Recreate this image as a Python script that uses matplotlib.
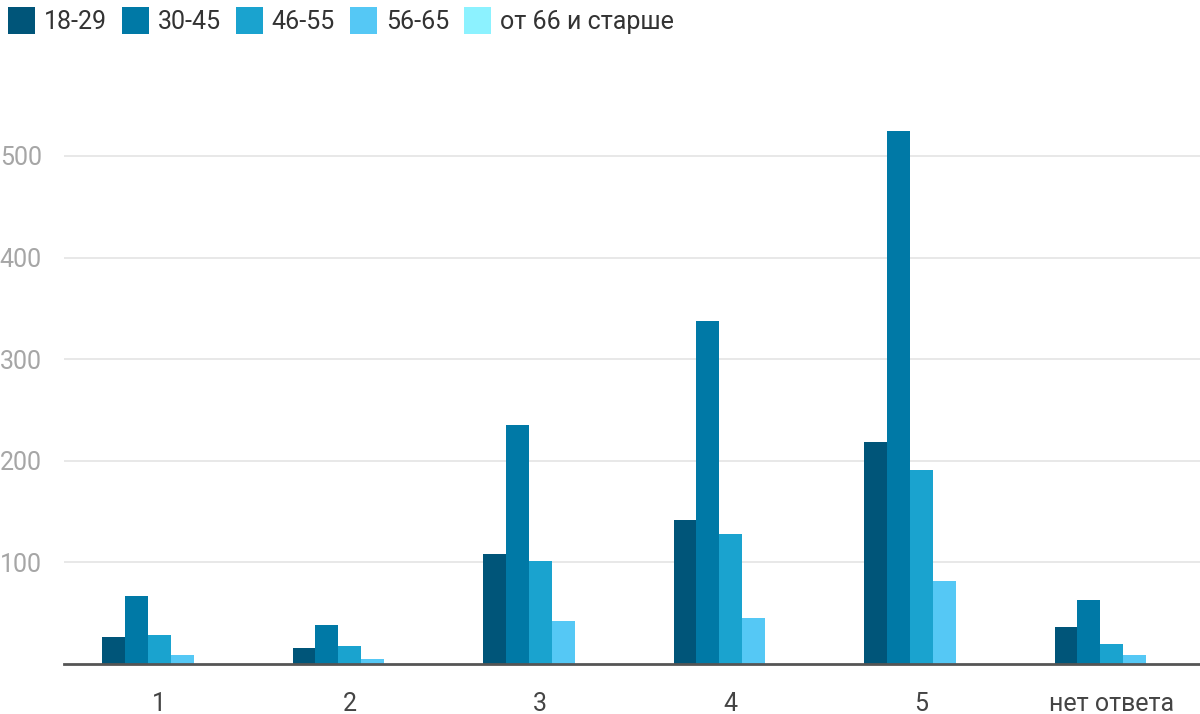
import numpy as np
import matplotlib
matplotlib.use("Agg")
import matplotlib.pyplot as plt
from matplotlib import font_manager

categories = ["1", "2", "3", "4", "5", "нет ответа"]
series_names = ["18-29", "30-45", "46-55", "56-65", "от 66 и старше"]
v_18_29 = [27, 16, 108, 142, 218, 36]
v_30_45 = [67, 38, 235, 338, 525, 63]
v_46_55 = [29, 18, 101, 128, 191, 20]
v_56_65 = [9, 5, 42, 45, 82, 9]
v_66_up = [0, 0, 0, 0, 0, 0]
y_ticks = [100, 200, 300, 400, 500]

colors = ["#005579", "#0079a6", "#1aa3cf", "#55c8f5", "#8cf2ff"]

# condensed font if present, otherwise Roboto
try:
    font_manager.findfont("Liberation Sans Narrow", fallback_to_default=False)
    fam = "Liberation Sans Narrow"
    fs = 20
except Exception:
    fam = "Roboto"
    fs = 18
plt.rcParams["font.family"] = [fam, "DejaVu Sans"]

fig = plt.figure(figsize=(12, 7.14), dpi=100)
ax = fig.add_axes([64 / 1200, 50 / 714, 1143 / 1200, 569 / 714])

data = [v_18_29, v_30_45, v_46_55, v_56_65, v_66_up]
x = np.arange(len(categories))
w = 0.12
for i, (name, vals) in enumerate(zip(series_names, data)):
    ax.bar(x + (i - 2) * w, vals, width=w, color=colors[i], label=name,
           edgecolor="none", zorder=3)

ax.set_xlim(-0.5, len(categories) - 0.5)
ax.set_ylim(0, 560)
ax.set_yticks(y_ticks)
ax.set_yticklabels([str(t) for t in y_ticks])
ax.set_xticks(x)
ax.set_xticklabels(categories)
ax.tick_params(axis="y", length=0, pad=16, labelsize=fs, labelcolor="#a6a6a6")
ax.tick_params(axis="x", length=0, pad=20, labelsize=fs, labelcolor="#444444")
ax.grid(axis="y", color="#e4e4e4", linewidth=1.2, zorder=0)
for s in ["top", "right", "left"]:
    ax.spines[s].set_visible(False)
ax.spines["bottom"].set_color("#555555")
ax.spines["bottom"].set_linewidth(2)
ax.spines["bottom"].set_zorder(4)

fig.legend(loc="upper left", bbox_to_anchor=(0.0, 1.0), ncol=5, frameon=False,
           fontsize=fs, handlelength=1.08, handleheight=1.28, handletextpad=0.36,
           columnspacing=0.6, borderpad=0.15, borderaxespad=0.15,
           labelcolor="#333333")

fig.savefig("out.png", dpi=100)
